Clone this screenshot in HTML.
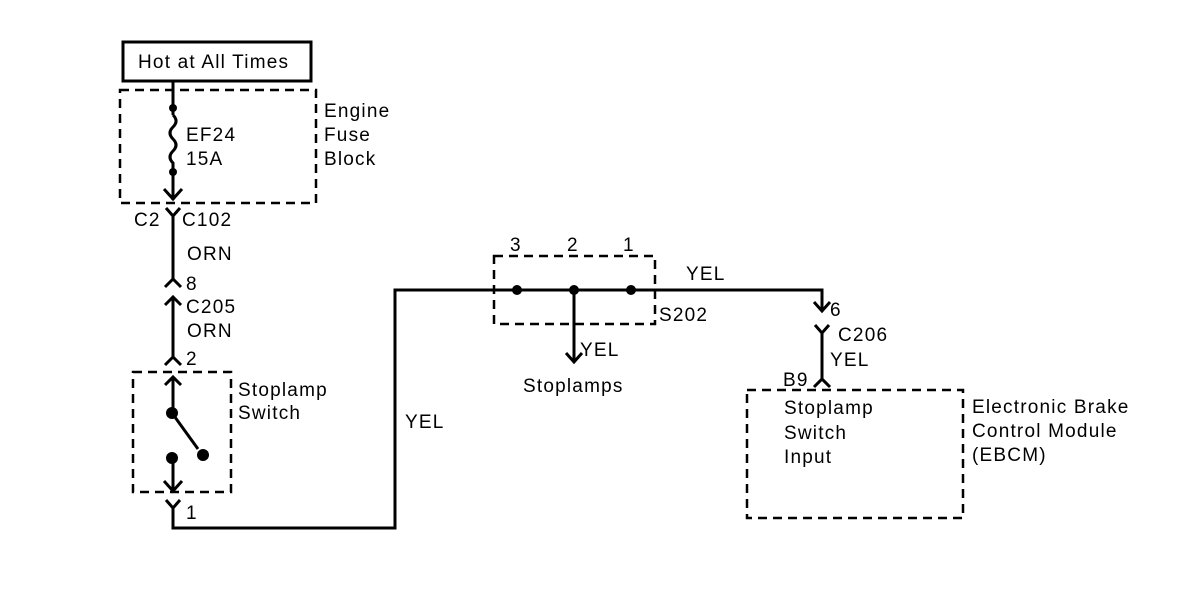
<!DOCTYPE html>
<html><head><meta charset="utf-8"><style>
html,body{margin:0;padding:0;background:#fff}
svg text{font-family:"Liberation Sans",Arial,sans-serif;font-size:19px;letter-spacing:1.2px;fill:#000}
</style></head><body>
<svg width="1200" height="584" viewBox="0 0 1200 584" xmlns="http://www.w3.org/2000/svg">
<g fill="none" stroke="#000" stroke-width="3">
<rect x="123" y="42" width="188" height="39"/>
</g>
<g fill="none" stroke="#000" stroke-width="2.5" stroke-dasharray="9,6">
<rect x="120" y="90" width="196" height="113"/>
<rect x="133" y="372" width="98" height="120"/>
<rect x="494" y="256" width="161" height="68"/>
<rect x="747" y="390" width="216" height="128"/>
</g>
<g fill="none" stroke="#000" stroke-width="3">
<path d="M173 81 V115"/>
<path d="M173 115 q6 6 0 12 q-6 6 0 12 q6 6 0 12 q-6 6 0 12 V200"/>
<path d="M164 189 L173 199 L182 189"/>
<path d="M166 208 L173 216 L180 208 M173 216 V280"/>
<path d="M165 287 L173 279 L181 287"/>
<path d="M165 305 L173 297 L181 305 M173 297 V357"/>
<path d="M165 365 L173 357 L181 365"/>
<path d="M165 385 L173 377 L181 385 M173 377 V413"/>
<path d="M172 413 L198 449"/>
<path d="M173 458 V492"/>
<path d="M164 481 L173 491 L182 481"/>
<path d="M166 500 L173 508 L180 500 M173 508 V528 H395 V290 H822 V310"/>
<path d="M814 302 L822 311 L830 302"/>
<path d="M815 325 L822 333 L829 325 M822 333 V380"/>
<path d="M814 387 L822 379 L830 387"/>
<path d="M574 290 V362"/>
<path d="M566 353 L574 362 L582 353"/>
</g>
<g fill="#000">
<circle cx="173" cy="108" r="4"/>
<circle cx="173" cy="172" r="4"/>
<circle cx="172" cy="413" r="6"/>
<circle cx="172" cy="458" r="6"/>
<circle cx="203" cy="455" r="6"/>
<circle cx="517" cy="290" r="5"/>
<circle cx="574" cy="290" r="5"/>
<circle cx="631" cy="290" r="5"/>
</g>
<text x="138" y="68">Hot at All Times</text>
<text x="324" y="117">Engine</text>
<text x="324" y="141">Fuse</text>
<text x="324" y="165">Block</text>
<text x="186" y="141">EF24</text>
<text x="186" y="165">15A</text>
<text x="134" y="226">C2</text>
<text x="182" y="226">C102</text>
<text x="187" y="260">ORN</text>
<text x="186" y="290">8</text>
<text x="186" y="313">C205</text>
<text x="187" y="337">ORN</text>
<text x="186" y="365">2</text>
<text x="238" y="396">Stoplamp</text>
<text x="238" y="419">Switch</text>
<text x="186" y="519">1</text>
<text x="405" y="428">YEL</text>
<text x="510" y="251">3</text>
<text x="567" y="251">2</text>
<text x="623" y="251">1</text>
<text x="686" y="280">YEL</text>
<text x="659" y="321">S202</text>
<text x="580" y="356">YEL</text>
<text x="523" y="392">Stoplamps</text>
<text x="830" y="316">6</text>
<text x="838" y="341">C206</text>
<text x="830" y="366">YEL</text>
<text x="783" y="386">B9</text>
<text x="784" y="414">Stoplamp</text>
<text x="784" y="439">Switch</text>
<text x="784" y="463">Input</text>
<text x="972" y="413">Electronic Brake</text>
<text x="972" y="437">Control Module</text>
<text x="972" y="461">(EBCM)</text>
</svg>
</body></html>
